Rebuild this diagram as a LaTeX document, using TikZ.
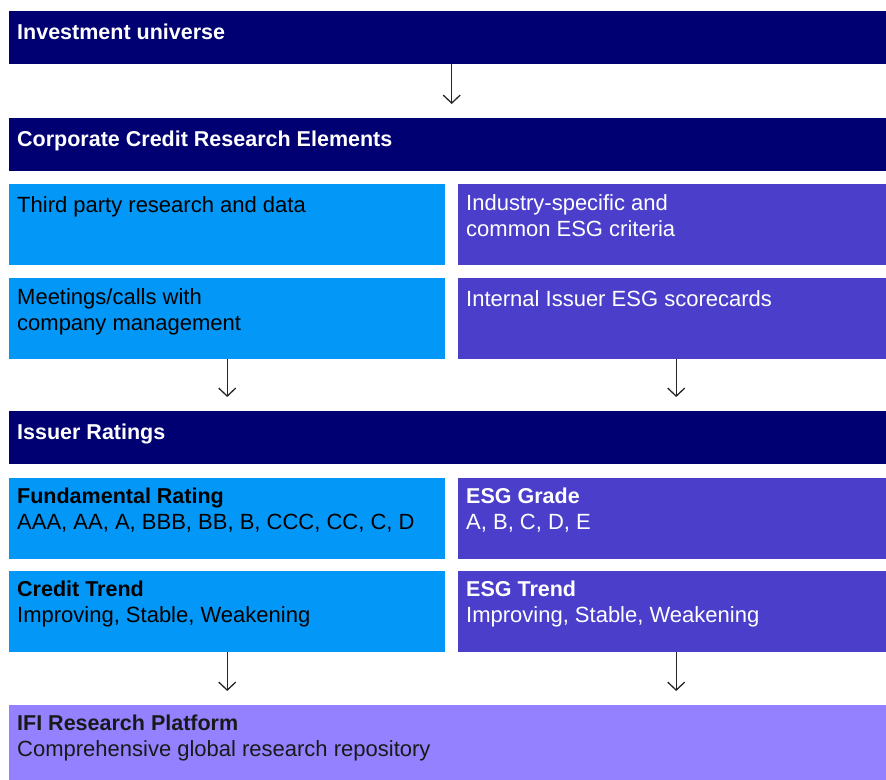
\documentclass[tikz,border=0pt]{standalone}
\usepackage{fontspec}
\setmainfont{Liberation Sans}
\usepackage{xcolor}
\usetikzlibrary{arrows.meta, positioning, calc}

\definecolor{ifinavy}{RGB}{0,0,115}
\definecolor{ifiblue}{RGB}{3,152,248}
\definecolor{ifipurple}{RGB}{74,62,203}
\definecolor{ifilav}{RGB}{147,129,255}

\newcommand{\ifihead}[1]{{\fontsize{21.5}{26}\selectfont\bfseries #1}}

\tikzset{
  band/.style={anchor=north west, inner sep=0pt, minimum width=885pt, minimum height=53pt, fill=ifinavy},
  cell/.style={anchor=north west, inner sep=0pt, minimum width=436pt, minimum height=80.5pt},
  txt/.style={anchor=north west, inner sep=0pt, align=left, xshift=8pt, yshift=-10pt,
    font=\fontsize{22}{26}\selectfont, execute at begin node=\strut},
  hd/.style={txt, font=\fontsize{21.5}{26}\selectfont\bfseries},
  flow/.style={draw=black!85, line width=1.3pt, shorten >=14pt,
    -{Straight Barb[length=8pt, width=17pt, line width=1.3pt]}}
}

\begin{document}
\begin{tikzpicture}[x=1pt, y=-1pt]
\useasboundingbox (0,0) rectangle (886,779);

% full-width bands
\node[band] (inv) at (9,11) {};
\node[band] (crc) at (9,118) {};
\node[band] (ir) at (9,411) {};
\node[band, fill=ifilav, minimum height=80pt] (ifi) at (9,705) {};

% two-column cells
\foreach \n/\x/\y/\c in {tpr/9/184/ifiblue, ind/458/184/ifipurple,
    meet/9/278/ifiblue, isc/458/278/ifipurple,
    fr/9/478/ifiblue, eg/458/478/ifipurple,
    ct/9/571/ifiblue, et/458/571/ifipurple}
  \node[cell, fill=\c] (\n) at (\x,\y) {};

% texts
\node[hd, text=white] (inv-t) at (inv.north west) {Investment universe};
\node[hd, text=white] (crc-t) at (crc.north west) {Corporate Credit Research Elements};
\node[txt] (tpr-t) at (tpr.north west) {Third party research and data};
\node[txt, text=white] (ind-t) at (ind.north west) {Industry-specific and\\common ESG criteria};
\node[txt] (meet-t) at (meet.north west) {Meetings/calls with\\company management};
\node[txt, text=white] (isc-t) at (isc.north west) {Internal Issuer ESG scorecards};
\node[hd, text=white] (ir-t) at (ir.north west) {Issuer Ratings};
\node[txt] (fr-t) at (fr.north west) {\ifihead{Fundamental Rating}\\AAA, AA, A, BBB, BB, B, CCC, CC, C, D};
\node[txt, text=white] (eg-t) at (eg.north west) {\ifihead{ESG Grade}\\A, B, C, D, E};
\node[txt] (ct-t) at (ct.north west) {\ifihead{Credit Trend}\\Improving, Stable, Weakening};
\node[txt, text=white] (et-t) at (et.north west) {\ifihead{ESG Trend}\\Improving, Stable, Weakening};
\node[txt, text=black!90] (ifi-t) at (ifi.north west) {\ifihead{IFI Research Platform}\\Comprehensive global research repository};

% arrows
\draw[flow] (inv) -- (crc);
\draw[flow] (meet.south) -- (meet.south |- ir.north);
\draw[flow] (isc.south) -- (isc.south |- ir.north);
\draw[flow] (ct.south) -- (ct.south |- ifi.north);
\draw[flow] (et.south) -- (et.south |- ifi.north);
\end{tikzpicture}
\end{document}
